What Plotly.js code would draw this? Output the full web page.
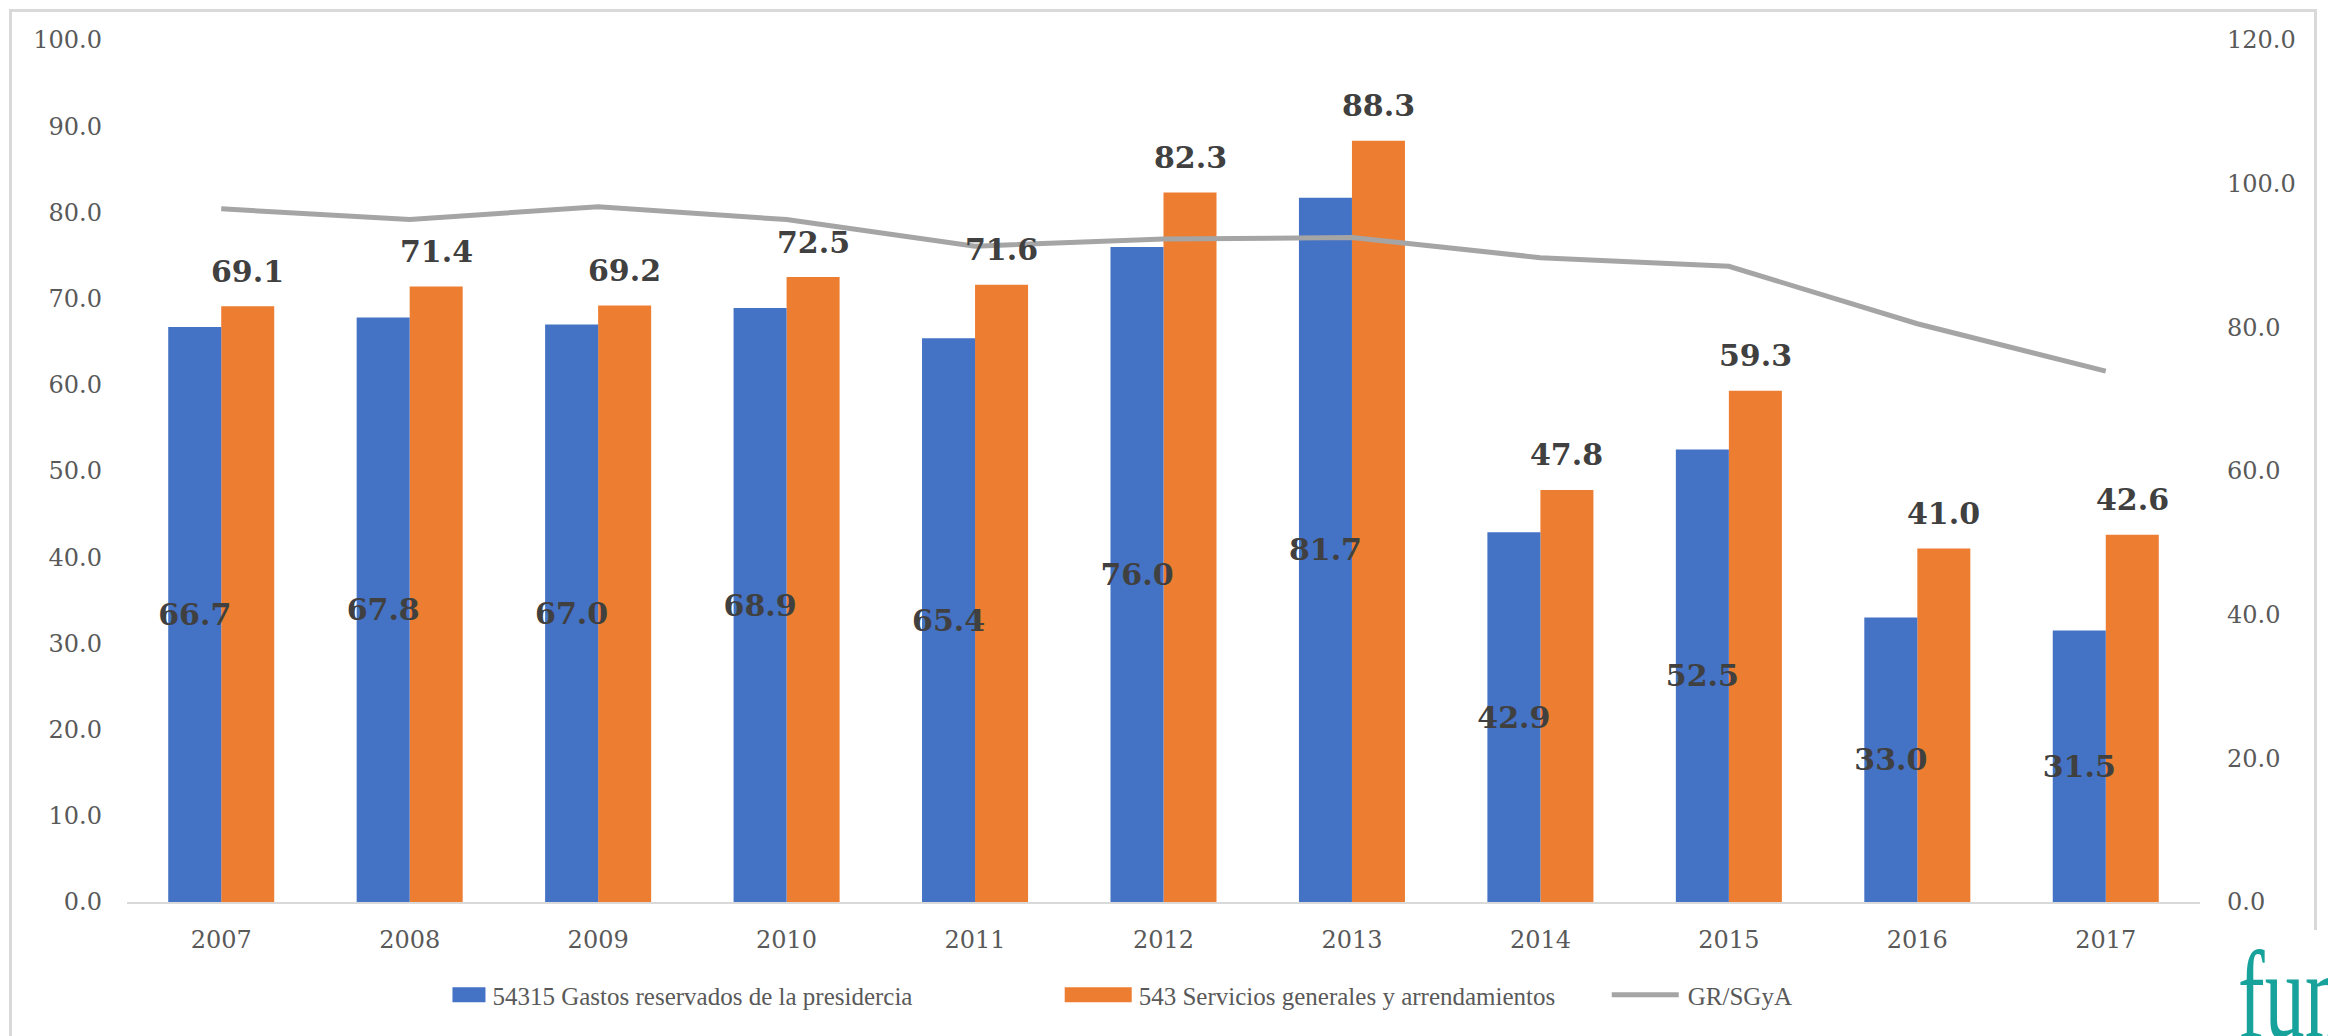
<!DOCTYPE html>
<html>
<head>
<meta charset="utf-8">
<script src="https://cdn.plot.ly/plotly-3.0.1.min.js"></script>
<style>
  html, body { margin: 0; padding: 0; background: #ffffff; }
  #wrap { position: relative; width: 2328px; height: 1036px; overflow: hidden; background: #fff; }
  #frame { position: absolute; left: 9px; top: 9px; width: 2308px; height: 1100px; border: 3px solid #d9d9d9; box-sizing: border-box; pointer-events: none; }
  #chart { position: absolute; left: 0; top: 0; width: 2328px; height: 1036px; }
  #logo { position: absolute; left: 2222px; top: 930px; width: 120px; height: 120px; background: #fff; overflow: hidden; }
  #logo span { position: absolute; left: 16px; top: 3px; font-family: "Liberation Serif", serif; font-size: 125px; color: #17a39b; line-height: 1; transform: scaleX(0.64); transform-origin: 0 0; white-space: nowrap; }
</style>
</head>
<body>
<div id="wrap">
  <div id="chart"></div>
  <div id="frame"></div>
  <div id="logo"><span>fun</span></div>
</div>
<script>
// ---- data ----
const years = ['2007','2008','2009','2010','2011','2012','2013','2014','2015','2016','2017'];
const gastosReservados = [66.7, 67.8, 67.0, 68.9, 65.4, 76.0, 81.7, 42.9, 52.5, 33.0, 31.5];
const serviciosGenerales = [69.1, 71.4, 69.2, 72.5, 71.6, 82.3, 88.3, 47.8, 59.3, 41.0, 42.6];
const grSgya = [96.5, 95.0, 96.8, 95.0, 91.3, 92.3, 92.5, 89.7, 88.5, 80.5, 73.9];
const leftTicks = [0, 10, 20, 30, 40, 50, 60, 70, 80, 90, 100];
const rightTicks = [0, 20, 40, 60, 80, 100, 120];
const seriesNames = ['54315 Gastos reservados de la presidercia', '543 Servicios generales y arrendamientos', 'GR/SGyA'];

// ---- styles ----
const BLUE = '#4472C4', ORANGE = '#ED7D31', GREY = '#A5A5A5';
const TICKFONT = {family: 'DejaVu Serif, serif', size: 24, color: '#595959'};
const LABELFONT = {family: 'DejaVu Serif, serif', size: 30, color: '#404040', weight: 'bold'};
const BARW = 0.2813;           // bar width in category units
const NB = '\u00A0';           // legend spacing padding

const traces = [
  {
    type: 'bar', name: seriesNames[1] + NB.repeat(14), x: years, y: serviciosGenerales,
    width: BARW, offset: 0,
    marker: {color: ORANGE},
    legendrank: 2,
    hoverinfo: 'skip'
  },
  {
    type: 'bar', name: seriesNames[0] + NB.repeat(29), x: years, y: gastosReservados,
    width: BARW, offset: -BARW,
    marker: {color: BLUE},
    text: gastosReservados.map(v => v.toFixed(1)),
    textposition: 'inside', insidetextanchor: 'middle', textangle: 0,
    constraintext: 'none',
    insidetextfont: LABELFONT,
    legendrank: 1,
    hoverinfo: 'skip'
  },
  {
    type: 'scatter', mode: 'lines', name: seriesNames[2], x: years, y: grSgya,
    yaxis: 'y2',
    line: {color: GREY, width: 5},
    legendrank: 3,
    hoverinfo: 'skip'
  }
];

// labels above the orange bars (x given as category index)
const annotations = years.map((yr, i) => ({
  x: i, y: serviciosGenerales[i], xref: 'x', yref: 'y',
  text: serviciosGenerales[i].toFixed(1),
  showarrow: false, xanchor: 'center', yanchor: 'middle',
  xshift: 26.5, yshift: 35,
  font: LABELFONT
}));

const layout = {
  width: 2328, height: 1036,
  margin: {l: 127, r: 128, t: 40, b: 134},
  paper_bgcolor: 'rgba(0,0,0,0)', plot_bgcolor: 'rgba(0,0,0,0)',
  barmode: 'overlay',
  showlegend: true,
  legend: {
    orientation: 'h', x: 0.157, xanchor: 'left', y: -0.108, yanchor: 'middle',
    font: {family: 'Liberation Serif, serif', size: 25, color: '#595959'},
    traceorder: 'normal'
  },
  xaxis: {
    type: 'category', categoryorder: 'array', categoryarray: years,
    range: [-0.5, years.length - 0.5], autorange: false,
    tickfont: TICKFONT,
    showline: true, linecolor: '#d9d9d9', linewidth: 2,
    showgrid: false, zeroline: false, ticks: '', ticklabelstandoff: 15
  },
  yaxis: {
    range: [0, 100], tickvals: leftTicks, tickformat: '.1f',
    tickfont: TICKFONT, showgrid: false, zeroline: false, showline: false,
    ticks: '', ticklabelstandoff: 24
  },
  yaxis2: {
    range: [0, 120], tickvals: rightTicks, tickformat: '.1f', overlaying: 'y', side: 'right',
    tickfont: TICKFONT, showgrid: false, zeroline: false, showline: false,
    ticks: '', ticklabelstandoff: 26
  },
  annotations: annotations
};

// widen the legend keys to the wide Excel-style swatches
function widenLegendKeys() {
  const gd = document.getElementById('chart');
  gd.querySelectorAll('g.legendpoints path').forEach(function (p) {
    p.setAttribute('d', 'M13,7.5H-54V-7.5H13Z');
  });
  gd.querySelectorAll('g.legendlines path').forEach(function (p) {
    p.setAttribute('d', 'M-36,0h67');
  });
}

Plotly.newPlot('chart', traces, layout, {displayModeBar: false, staticPlot: true});
widenLegendKeys();
[0, 50, 200, 500].forEach(function (t) { setTimeout(widenLegendKeys, t); });
</script>
</body>
</html>
